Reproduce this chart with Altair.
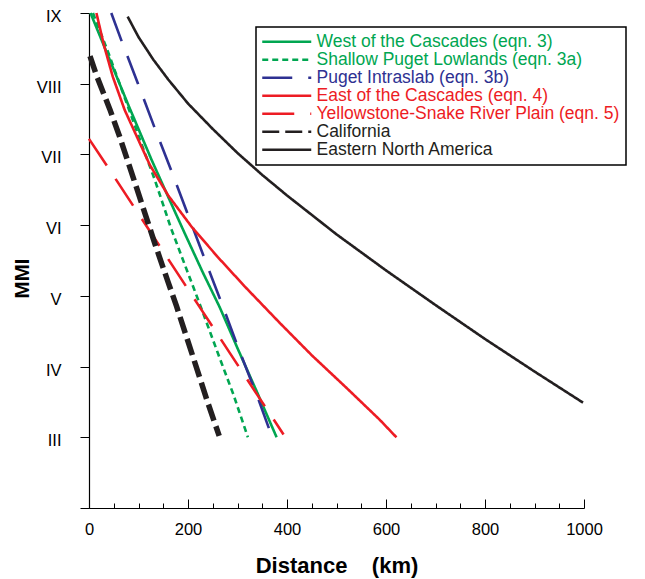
import json
import altair as alt
import pandas as pd

# ---------------- data ----------------
series_names = [
    "West of the Cascades (eqn. 3)",
    "Shallow Puget Lowlands (eqn. 3a)",
    "Puget Intraslab (eqn. 3b)",
    "East of the Cascades (eqn. 4)",
    "Yellowstone-Snake River Plain (eqn. 5)",
    "California",
    "Eastern North America",
]

west_km = [3, 40, 80, 126, 160, 193, 230, 264, 300, 340, 379]
west_mmi = [9.0, 8.37, 7.69, 6.93, 6.40, 5.89, 5.33, 4.84, 4.26, 3.63, 3.0]

shallow_km = [8, 40, 80, 106, 133, 166, 193, 224, 264, 291, 321]
shallow_mmi = [9.0, 8.42, 7.65, 7.15, 6.64, 5.95, 5.45, 4.88, 4.12, 3.62, 3.0]

intraslab_km = [45, 65, 99, 134, 168, 203, 237, 271, 304, 341, 368]
intraslab_mmi = [9.0, 8.62, 8.0, 7.35, 6.74, 6.09, 5.46, 4.84, 4.22, 3.56, 3.04]

east_km = [15, 30, 48, 72, 102, 123, 160, 207, 260, 315, 385, 450, 520, 587, 621]
east_mmi = [9.0, 8.55, 8.10, 7.63, 7.17, 6.85, 6.42, 5.98, 5.55, 5.13, 4.62, 4.16, 3.70, 3.25, 3.0]

yellowstone_km = [0, 40, 100, 160, 220, 280, 340, 393]
yellowstone_mmi = [7.22, 6.80, 6.16, 5.52, 4.88, 4.24, 3.60, 3.04]

california_km = [2, 15, 42, 62, 89, 119, 133, 160, 177, 210, 240, 263]
california_mmi = [8.39, 8.12, 7.64, 7.25, 6.68, 6.04, 5.74, 5.19, 4.85, 4.14, 3.49, 3.02]

ena_km = [78, 100, 130, 160, 200, 250, 300, 350, 400, 500, 600, 700, 800, 900, 998]
ena_mmi = [8.95, 8.66, 8.34, 8.06, 7.72, 7.36, 7.02, 6.71, 6.42, 5.87, 5.36, 4.87, 4.39, 3.93, 3.49]

mmi_ticks = [2, 3, 4, 5, 6, 7, 8, 9]
mmi_tick_labels = ["", "III", "IV", "V", "VI", "VII", "VIII", "IX"]
x_major = [0, 200, 400, 600, 800, 1000]
x_minor = [50, 100, 150, 250, 300, 350, 450, 500, 550, 650, 700, 750, 850, 900, 950]

# ---------------- styles ----------------
series_colors = ["#00a651", "#00a651", "#2e3192", "#ed1c24", "#ed1c24", "#231f20", "#231f20"]
series_dashes = [[1, 0], [6, 4], [30, 16], [1, 0], [32, 16], [17, 6], [1, 0]]
series_widths = [2.6, 2.6, 2.6, 2.6, 2.6, 5.5, 2.6]
THIN, THICK = 2.6, 5.5
THICK_SERIES = "California"

curves = [
    (west_km, west_mmi),
    (shallow_km, shallow_mmi),
    (intraslab_km, intraslab_mmi),
    (east_km, east_mmi),
    (yellowstone_km, yellowstone_mmi),
    (california_km, california_mmi),
    (ena_km, ena_mmi),
]
rows = []
for name, (kms, mmis) in zip(series_names, curves):
    for k, m in zip(kms, mmis):
        rows.append({"series": name, "km": k, "mmi": m})
df = pd.DataFrame(rows)
df_thin = df[df["series"] != THICK_SERIES]
df_thick = df[df["series"] == THICK_SERIES]

FONT = "Liberation Sans"

x_scale = alt.Scale(domain=[0, 1000], nice=False, zero=False)
y_scale = alt.Scale(domain=[2, 9], nice=False, zero=False)
color_scale = alt.Scale(domain=series_names, range=series_colors)
dash_scale = alt.Scale(domain=series_names, range=series_dashes)

roman_expr = json.dumps(mmi_tick_labels) + "[datum.value - 2]"
names_js = json.dumps(series_names)
idx_expr = "indexof(" + names_js + ", datum.label)"
color_expr = json.dumps(series_colors) + "[" + idx_expr + "]"
width_expr = (
    "(isValid(datum) && " + idx_expr + " >= 0) ? "
    + json.dumps(series_widths) + "[" + idx_expr + "] : " + str(THIN)
)

legend = alt.Legend(
    title=None,
    orient="none",
    legendX=167,
    legendY=14,
    symbolType="M-1.308,0H6.231",
    symbolSize=169,
    rowPadding=-1,
    labelFontSize=17.5,
    labelFont=FONT,
    labelOffset=37,
    labelLimit=0,
    padding=6,
    strokeColor="black",
    fillColor="white",
    labelColor=alt.ExprRef(color_expr),
    symbolStrokeWidth=alt.ExprRef(width_expr),
)

y_axis = alt.Axis(
    title="MMI",
    orient="left",
    values=mmi_ticks,
    labelExpr=roman_expr,
    tickSize=9,
    tickColor="black",
    tickWidth=1,
    labelPadding=19,
    labelOffset=3.5,
    labelFontSize=16.5,
    labelFont=FONT,
    labelColor="black",
    domainColor="black",
    domainWidth=1.2,
    titleFont=FONT,
    titleFontSize=20.5,
    titleFontWeight="bold",
    titleColor="black",
    titlePadding=4,
    titleY=265,
    grid=False,
)

x_axis_main = alt.Axis(
    title="Distance\u00a0\u00a0\u00a0\u00a0(km)",
    orient="bottom",
    values=x_major,
    format="d",
    ticks=False,
    tickSize=0,
    labelPadding=13,
    labelFontSize=16.5,
    labelFont=FONT,
    labelColor="black",
    labelFlush=False,
    domainColor="black",
    domainWidth=1.2,
    titleFont=FONT,
    titleFontSize=22,
    titleFontWeight="bold",
    titleColor="black",
    titlePadding=18,
    grid=False,
)

lines_thin = alt.Chart(df_thin).mark_line(strokeCap="butt", strokeJoin="round").encode(
    x=alt.X("km:Q", scale=x_scale, axis=x_axis_main),
    y=alt.Y("mmi:Q", scale=y_scale, axis=y_axis),
    color=alt.Color("series:N", scale=color_scale, legend=legend),
    strokeDash=alt.StrokeDash("series:N", scale=dash_scale, legend=legend),
)

lines_thick = alt.Chart(df_thick).mark_line(strokeCap="butt", strokeJoin="round", strokeWidth=THICK).encode(
    x=alt.X("km:Q", scale=x_scale, axis=x_axis_main),
    y=alt.Y("mmi:Q", scale=y_scale, axis=y_axis),
    color=alt.Color("series:N", scale=color_scale, legend=legend),
    strokeDash=alt.StrokeDash("series:N", scale=dash_scale, legend=legend),
)

major_ticks = alt.Chart(df).mark_line(opacity=0).encode(
    x=alt.X(
        "km:Q",
        scale=x_scale,
        axis=alt.Axis(title=None, orient="bottom", values=x_major, labels=False, domain=False,
                      ticks=True, tickSize=9, tickColor="black", tickWidth=1, offset=-9, grid=False),
    ),
    y=alt.Y("mmi:Q", scale=y_scale, axis=y_axis),
    detail="series:N",
)

minor_ticks = alt.Chart(df).mark_line(opacity=0).encode(
    x=alt.X(
        "km:Q",
        scale=x_scale,
        axis=alt.Axis(title=None, orient="bottom", values=x_minor, labels=False, domain=False,
                      ticks=True, tickSize=5, tickColor="black", tickWidth=1, offset=-5, grid=False),
    ),
    y=alt.Y("mmi:Q", scale=y_scale, axis=y_axis),
    detail="series:N",
)

main_lines = alt.layer(lines_thin, lines_thick)

chart = (
    alt.layer(main_lines, major_ticks, minor_ticks)
    .resolve_axis(x="independent")
    .properties(
        width=495,
        height=495,
        autosize=alt.AutoSizeParams(type="none"),
        padding={"left": 81, "top": 5, "right": 45, "bottom": 71},
    )
    .configure_view(stroke=None)
    .configure_line(strokeWidth=THIN)
    .configure_legend(strokeWidth=1.5)
)

chart.save("out.html", embed_options={"renderer": "svg", "actions": False})
